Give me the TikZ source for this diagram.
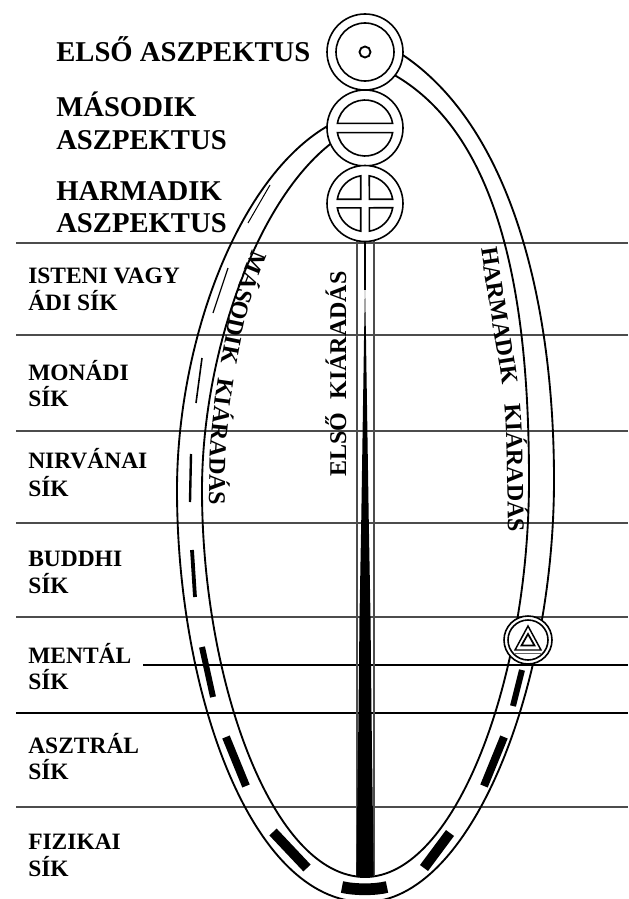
\documentclass[tikz,border=0pt]{standalone}
\usepackage{fontspec}
\setmainfont{Liberation Serif}
\usetikzlibrary{decorations.text}
\newcommand{\aspectfont}{\bfseries\fontsize{21.5}{24}\selectfont}
\newcommand{\planefont}{\bfseries\fontsize{17.6}{20}\selectfont}
\newcommand{\wavefont}{\bfseries\fontsize{18}{20}\selectfont}
\tikzset{
  planeline/.style={draw=black!70,line width=1.5pt},
  thinline/.style={draw=black,line width=1.1pt},
  strand/.style={draw=black,line width=1.4pt},
  ring/.style={draw=black,line width=1.2pt,fill=white},
  aspect/.style={anchor=base west,inner sep=0pt,font=\aspectfont},
  plane/.style={anchor=base west,inner sep=0pt,font=\planefont},
}
\begin{document}
\begin{tikzpicture}[x=0.75pt,y=0.75pt]
\useasboundingbox (0,0) rectangle (628,-899);
% planes
\foreach \y in {243,335,431,523,617,807} {\draw[planeline] (16,-\y) -- (628,-\y);}
\draw[thinline] (143,-665) -- (628,-665);
\draw[thinline] (16,-713) -- (628,-713);
% the two strands of the loop
\draw[strand] (335,-122) .. controls (240,-170) and (177,-340) .. (177,-490) .. controls (177,-690) and (250,-902) .. (365,-902) .. controls (470,-902) and (554,-690) .. (554,-480) .. controls (554,-300) and (510,-120) .. (395,-50);
\draw[strand] (340,-137) .. controls (260,-190) and (202,-350) .. (202,-490) .. controls (202,-680) and (272,-877) .. (365,-877) .. controls (455,-877) and (529,-680) .. (529,-480) .. controls (529,-310) and (505,-130) .. (385,-70);
% dashes inside the loop
\foreach \xa/\ya/\xb/\yb/\w in {270/185/248/223/1, 228/268/213/313/1.2, 202/358/196/403/1.6, 191/454/190/502/2.4, 192/550/195/597/3.8, 202/647/213/697/6, 226/737/246/786/8, 273/832/307/868/10, 522/670/513/706/6, 504/737/484/786/8, 450/833/424/868/10}
  {\draw[line width=\w*0.75pt] (\xa,-\ya) -- (\xb,-\yb);}
\draw[line width=8.8pt] (342,-887) .. controls (355,-890) and (375,-890) .. (387,-887);
% stem
\draw[planeline,line width=1.1pt] (357,-241) -- (357,-876) (374,-241) -- (374,-876);
\draw[thinline] (365,-241) -- (365,-290);
\fill (365,-285) -- (366,-340) -- (368.8,-523) -- (370.5,-617) -- (371.5,-713) -- (373.7,-877) -- (356.3,-877) -- (358.5,-713) -- (359.5,-617) -- (361.2,-523) -- (364,-340) -- cycle;
% first aspect
\draw[ring] (365,-52) circle (38);
\draw[ring] (365,-52) circle (29);
\draw[ring,line width=1.4pt] (365,-52) circle (5.5);
% second aspect
\draw[ring] (365,-128) circle (38);
\draw[ring] (337.4,-123.4) arc[start angle=170.5,end angle=9.5,radius=28] -- cycle;
\draw[ring] (337.4,-132.6) arc[start angle=189.5,end angle=350.5,radius=28] -- cycle;
% third aspect
\draw[ring] (365,-203.5) circle (38);
\foreach \a in {0,90,180,270}
  {\draw[ring,rotate around={\a:(365,-203.5)}] (369.3,-199.2) -- (392.66,-199.2) arc[start angle=8.83,end angle=81.17,radius=28] -- (369.3,-199.2) -- cycle;}
% small ring with triangle
\draw[ring] (528,-640) circle (24);
\draw[ring] (528,-640) circle (20);
\draw[line width=1.1pt] (528,-626) -- (515,-650) -- (541,-650) -- cycle;
\draw[line width=1.3pt] (528,-634) -- (521.5,-645.5) -- (534.5,-645.5) -- cycle;
\draw[line width=1.1pt,black!60] (515,-653.5) -- (541,-653.5);
% aspect labels
\node[aspect] (first) at (56,-62) {ELSŐ ASZPEKTUS};
\node[aspect] (secondA) at (56,-117) {MÁSODIK};
\node[aspect] (secondB) at (56,-149.5) {ASZPEKTUS};
\node[aspect] (thirdA) at (56,-200) {HARMADIK};
\node[aspect] (thirdB) at (56,-232) {ASZPEKTUS};
% plane labels
\foreach \n/\ya/\la/\yb/\lb in {adi/283/ISTENI VAGY/310/ÁDI SÍK, monad/380/MONÁDI/406/SÍK, nirvana/468/NIRVÁNAI/496/SÍK, buddhi/566/BUDDHI/593/SÍK, mental/663/MENTÁL/689/SÍK, astral/753/ASZTRÁL/779/SÍK, physical/849/FIZIKAI/876/SÍK}
  {\node[plane] (\n a) at (28,-\ya) {\la}; \node[plane] (\n b) at (28,-\yb) {\lb};}
% outpourings
\node[anchor=base west,inner sep=0pt,rotate=90,font=\wavefont] (firstwave) at (346,-477) {ELSŐ\hspace{0.3em} KIÁRADÁS};
\path[decorate,decoration={text along path,text align={fit to path stretching spaces},text={|\wavefont|MÁSODIK KIÁRADÁS}}]
  plot[smooth] coordinates {(253,-250) (235,-297) (223,-350) (215,-400) (210,-450) (209,-505)};
\path[decorate,decoration={text along path,text align={fit to path stretching spaces},text={|\wavefont|HARMADIK KIÁRADÁS}}]
  plot[smooth] coordinates {(481,-248) (492,-320) (501,-375) (506,-430) (508,-532)};
\end{tikzpicture}
\end{document}
